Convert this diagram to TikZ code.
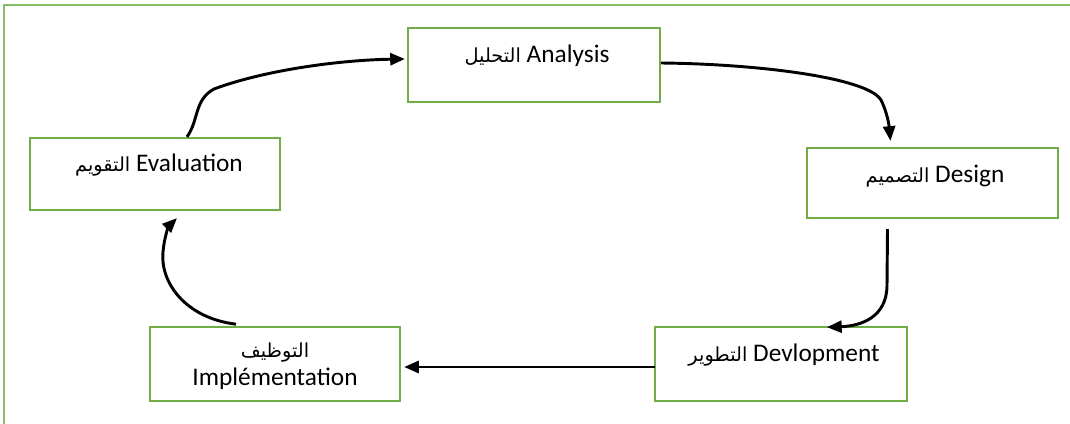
\documentclass[tikz,border=0pt]{standalone}
\usepackage{fontspec}
\setmainfont{Carlito}
\newfontfamily\arabicfont[Script=Arabic]{DejaVu Sans}
\TeXXeTstate=1
\usetikzlibrary{arrows.meta,calc}
\newcommand\artxt[1]{{\arabicfont\fontsize{14.5pt}{17pt}\selectfont\beginR #1\endR}}
\definecolor{boxgreen}{HTML}{70AD47}
\definecolor{framegreen}{HTML}{85BE65}
\tikzset{
  stagebox/.style={draw=boxgreen, line width=1.7pt, fill=white, rectangle, inner sep=0pt},
  stagetext/.style={font=\fontsize{19pt}{21pt}\selectfont, align=center, inner sep=0pt},
  flow/.style={line width=2.2pt, -{Triangle[length=11pt,width=9pt]}},
}
\begin{document}
\begin{tikzpicture}[x=0.75pt,y=-0.75pt]
\useasboundingbox (0,0) rectangle (1070,424);
% outer frame (top and left)
\draw[framegreen, line width=1.3pt] (1070,5) -- (4,5) -- (4,424);
% boxes
\node[stagebox, minimum width=189pt, minimum height=55.5pt] (ana) at (534,65) {};
\node[stagebox, minimum width=187.5pt, minimum height=54pt] (eva) at (155,174) {};
\node[stagebox, minimum width=188pt, minimum height=52.5pt] (des) at (932.5,183) {};
\node[stagebox, minimum width=187.5pt, minimum height=55pt] (imp) at (275,364) {};
\node[stagebox, minimum width=189pt, minimum height=55pt] (dev) at (781,364) {};
% texts
\node[stagetext] (anat) at (537,56) {\artxt{التحليل} Analysis};
\node[stagetext] (evat) at (159,165) {\artxt{التقويم} Evaluation};
\node[stagetext] (dest) at (935,176) {\artxt{التصميم} Design};
\node[stagetext] (impt) at (275,366) {\artxt{التوظيف}\\Implémentation};
\node[stagetext] (devt) at (784,355) {\artxt{التطوير} Devlopment};
% connectors
\draw[flow] ($(eva.north)+(32,0)$) .. controls (199,120) and (194,100) .. (214,89)
  .. controls (265,70) and (340,60) .. ($(ana.west)+(-2,-6)$);
\draw[flow] ($(ana.east)+(0,-2)$) .. controls (760,64) and (868,78) .. (881,100)
  .. controls (887,112) and (889,125) .. ($(des.north)+(-42,-6)$);
\draw[flow] ($(des.south)+(-45,10)$) -- (887,285)
  .. controls (887,318) and (860,326) .. ($(dev.north)+(46,1)$);
\draw[flow] ($(dev.west)+(1,3)$) -- ($(imp.east)+(3,3)$);
\draw[flow] ($(imp.north)+(-39,-2)$) .. controls (185,318) and (160,282) .. (163,252)
  .. controls (164,238) and (169,226) .. ($(eva.south)+(22,7)$);
\end{tikzpicture}
\end{document}
